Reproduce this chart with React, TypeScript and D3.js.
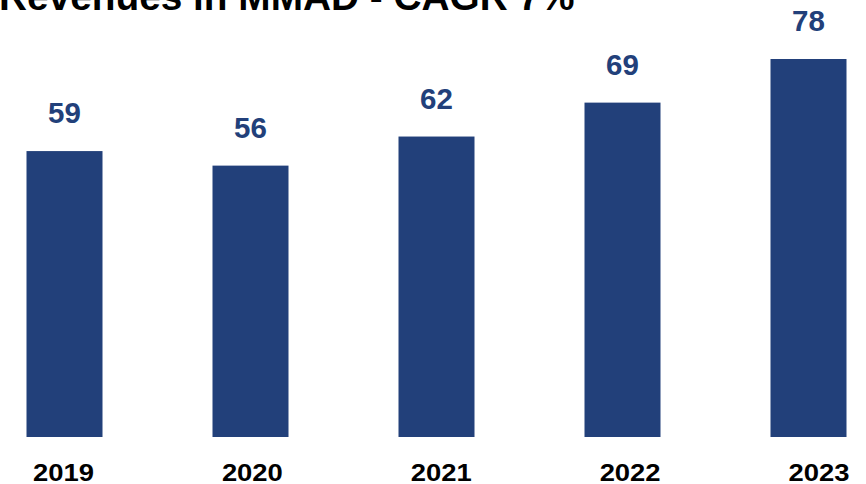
import React from "react";
import * as d3 from "d3";

const years = ["2019", "2020", "2021", "2022", "2023"];
const revenues = [59, 56, 62, 69, 78];
const title = "Revenues in MMAD - CAGR 7%";

const W = 866;
const H = 484;
const BAR_COLOR = "#22407a";
const FONT = "'Liberation Sans', Arial, Helvetica, sans-serif";

export default function App() {
  const barCenter = d3.scalePoint<string>().domain(years).range([64.5, 808.5]);
  const labelCenter = d3.scalePoint<string>().domain(years).range([63.5, 819]);
  const y = d3.scaleLinear().domain([0, 78]).range([437, 59]);
  const bw = 76;

  return (
    <svg
      width={W}
      height={H}
      style={{ position: "absolute", left: 0, top: 0, display: "block", background: "#fff" }}
    >
      <text x={-1} y={9.5} fontFamily={FONT} fontWeight="bold" fontSize={38.8} fill="#000">
        {title}
      </text>
      {years.map((yr, i) => {
        const cx = barCenter(yr) as number;
        const top = y(revenues[i]);
        return (
          <g key={yr}>
            <rect x={cx - bw / 2} y={top} width={bw} height={y(0) - top} fill={BAR_COLOR} />
            <text
              x={cx}
              y={top - 28}
              textAnchor="middle"
              fontFamily={FONT}
              fontWeight="bold"
              fontSize={29.5}
              fill={BAR_COLOR}
            >
              {revenues[i]}
            </text>
            <text
              x={labelCenter(yr) as number}
              y={481}
              textAnchor="middle"
              fontFamily={FONT}
              fontWeight="bold"
              fontSize={24.5}
              fill="#000"
              textLength={61}
              lengthAdjust="spacingAndGlyphs"
            >
              {yr}
            </text>
          </g>
        );
      })}
    </svg>
  );
}
